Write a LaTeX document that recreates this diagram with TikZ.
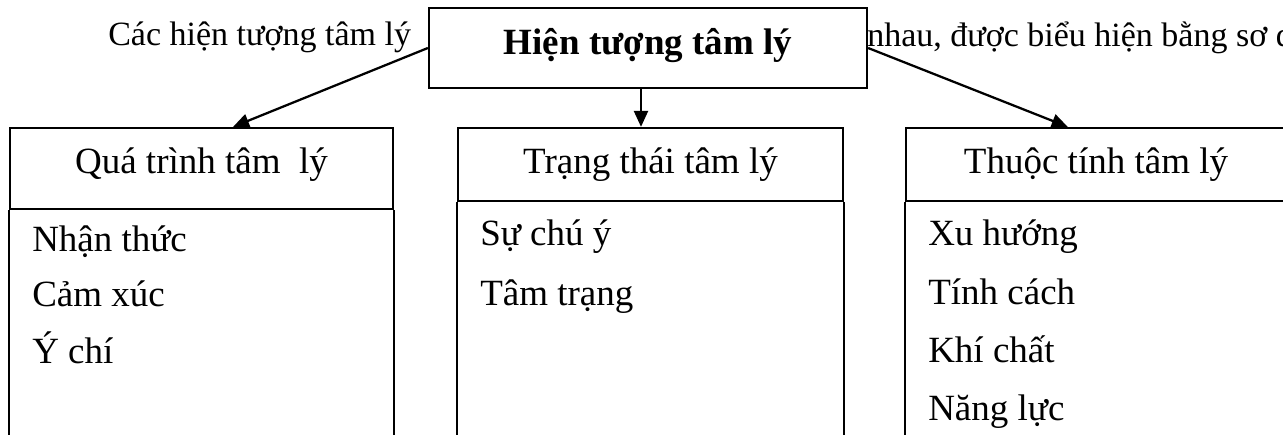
\documentclass[tikz,border=0pt]{standalone}
\usepackage{fontspec}
\setmainfont{Liberation Serif}
\usetikzlibrary{arrows.meta,calc}
\newcommand\tabfont{\fontsize{27.75pt}{33pt}\selectfont}
\newcommand\parafont{\fontsize{25.5pt}{30pt}\selectfont}
\begin{document}
\begin{tikzpicture}[x=0.75pt,y=-0.75pt,
  frame/.style={draw=black, line width=1.7pt},
  hdr/.style={frame, inner sep=0pt, font=\tabfont, text depth=8pt},
  item/.style={anchor=base west, inner sep=0pt, font=\tabfont},
  para/.style={anchor=base west, inner sep=0pt, font=\parafont},
  arr/.style={line width=1.7pt, -{Triangle[length=12pt,width=10.5pt]}}]
\useasboundingbox (0,0) rectangle (1283,435);
\clip (0,0) rectangle (1283,435);

% running text of the paragraph behind the title box
\node[para] (introL) at (108,46) {Các hiện tượng tâm lý};
\node[para] (introR) at (867,47) {nhau, được biểu hiện bằng sơ đ};

% title box
\node[frame, fill=white, inner sep=0pt, minimum width=328.5pt, minimum height=60pt,
      text height=20pt, text depth=9.5pt, font=\tabfont\bfseries]
  (top) at (648,48) {Hiện tượng tâm lý};

% column headers
\node[hdr, minimum width=287.25pt, minimum height=60.75pt, text height=16.25pt]
  (proc) at (201.5,168.5) {Quá trình tâm\ \ lý};
\node[hdr, minimum width=288.75pt, minimum height=54.75pt, text height=20.75pt]
  (state) at (650.5,164.5) {Trạng thái tâm lý};
\node[hdr, minimum width=285pt, minimum height=54.75pt, text height=20.75pt]
  (attr) at (1096,164.5) {Thuộc tính tâm lý};

% column bodies running past the bottom edge
\foreach \c in {proc,state,attr}{
  \draw[frame] (\c.south west) -- ++(0,260);
  \draw[frame] (\c.south east) -- ++(0,260);
}

% items
\node[item] (p1) at (32,251) {Nhận thức};
\node[item] (p2) at (32,306) {Cảm xúc};
\node[item] (p3) at (32,363) {Ý chí};

\node[item] (s1) at (480,245) {Sự chú ý};
\node[item] (s2) at (480,305) {Tâm trạng};

\node[item] (a1) at (928,245) {Xu hướng};
\node[item] (a2) at (928,304) {Tính cách};
\node[item] (a3) at (928,362) {Khí chất};
\node[item] (a4) at (928,420) {Năng lực};

% connectors
\draw[arr] (top.west) -- ($(proc.north west)!0.582!(proc.north east)$);
\draw[arr] ([xshift=-5.25pt]top.south) -- ([xshift=-5.25pt]top.south |- state.north);
\draw[arr] (top.east) -- ($(attr.north west)!0.426!(attr.north east)$);
\end{tikzpicture}
\end{document}
